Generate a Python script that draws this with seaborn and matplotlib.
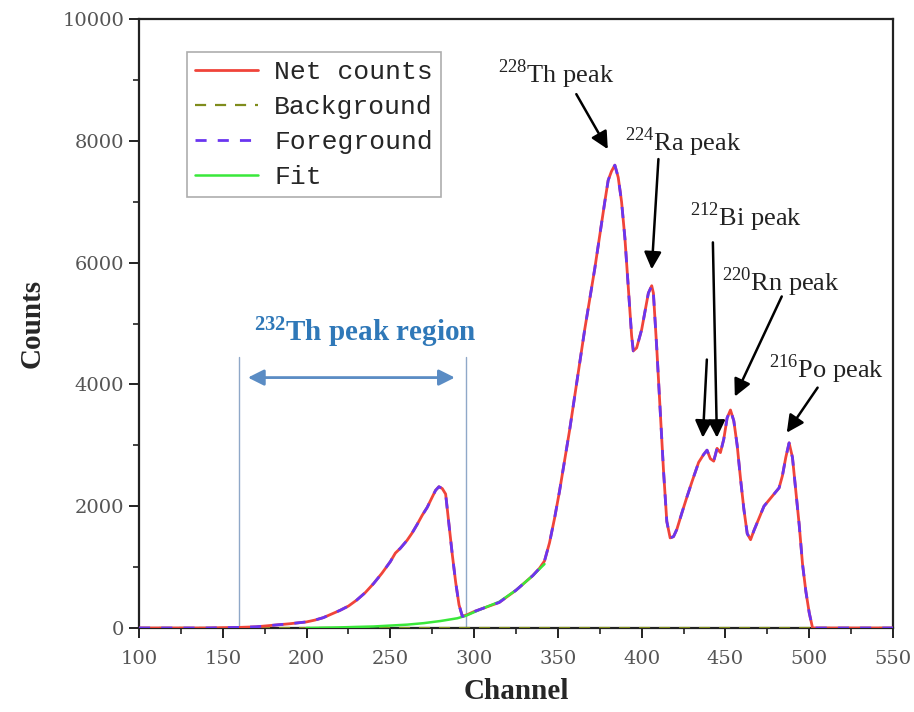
import numpy as np
import pandas as pd
import seaborn as sns
import matplotlib
matplotlib.use("Agg")
import matplotlib.pyplot as plt

# ---------------- data ----------------
channels = [100, 110, 120, 130, 140, 150, 160, 170, 180, 190, 200, 205, 210, 215, 220,
            225, 230, 235, 240, 245, 250, 253, 256, 260, 263, 266, 269, 272, 275, 277,
            279, 281, 283, 285, 287, 289, 291, 293, 296, 300, 305, 310, 315, 320, 325,
            330, 335, 339, 342, 345, 348, 351, 354, 357, 360, 363, 366, 369, 372, 375,
            378, 380, 382, 384, 386, 388, 390, 392, 394, 395, 397, 400, 402, 404, 406,
            407, 409, 411, 413, 415, 417, 419, 421, 424, 427, 430, 434, 437, 439, 441,
            443, 445, 447, 449, 451, 453, 455, 457, 459, 461, 463, 465, 467, 470, 473,
            476, 479, 482, 484, 486, 488, 490, 492, 494, 496, 498, 500, 502, 510, 520,
            530, 540, 550]
net_counts = [0, 0, 0, 0, 0, 5, 10, 20, 45, 70, 100, 130, 170, 230, 290,
              360, 460, 580, 730, 900, 1090, 1230, 1310, 1440, 1560, 1700, 1850, 1980, 2150, 2260,
              2320, 2290, 2200, 1700, 1200, 750, 380, 190, 220, 270, 320, 370, 420, 520, 620,
              740, 860, 980, 1100, 1400, 1800, 2250, 2750, 3250, 3800, 4350, 4900, 5400, 5900, 6450,
              7000, 7350, 7500, 7600, 7400, 7000, 6400, 5600, 4800, 4550, 4600, 4900, 5200, 5500, 5620,
              5500, 4600, 3600, 2600, 1750, 1480, 1500, 1620, 1890, 2150, 2400, 2720, 2850, 2920, 2780,
              2740, 2950, 2880, 3100, 3450, 3580, 3400, 3000, 2450, 1950, 1550, 1450, 1600, 1800, 2000,
              2100, 2200, 2300, 2500, 2800, 3040, 2800, 2250, 1700, 1050, 600, 250, 0, 0, 0,
              0, 0, 0]
foreground_counts = list(net_counts)

bg_channels = [100, 150, 200, 250, 300, 350, 400, 450, 500, 550]
bg_counts = [0, 0, 0, 0, 0, 0, 0, 0, 0, 0]

fit_channels = [200, 210, 220, 230, 240, 250, 260, 270, 280, 290, 295, 305, 315, 325, 335, 342]
fit_counts = [0, 5, 10, 18, 25, 40, 55, 80, 115, 160, 200, 320, 430, 620, 860, 1050]

legend_labels = ["Net counts", "Background", "Foreground", "Fit"]

peak_labels = ["$^{228}$Th peak", "$^{224}$Ra peak", "$^{212}$Bi peak", "$^{220}$Rn peak", "$^{216}$Po peak"]
peak_text_xy = [(349, 9095), (425, 7977), (462, 6743), (483, 5674), (510, 4243)]
arrow_tails = [(361, 8766), (410, 7700), (442.5, 6332), (483.6, 5444), (505, 3947)]
arrow_tips = [(379.8, 7862), (406, 5890), (444.9, 3125), (455.6, 3800), (486.6, 3207)]
extra_arrow_tail = (438.9, 4408)
extra_arrow_tip = (436.5, 3125)

region_label = "$\\mathbf{^{232}}$Th peak region"
region_bounds = [159.8, 294.9]
region_line_top = 4450
region_arrow = (165, 288.5, 4112)
region_text_xy = (235, 4852)

xticks = [100, 150, 200, 250, 300, 350, 400, 450, 500, 550]
yticks = [0, 2000, 4000, 6000, 8000, 10000]

# ---------------- style ----------------
sns.set_theme(style="ticks")
plt.rcParams["font.family"] = ["Liberation Serif", "DejaVu Serif"]
plt.rcParams["mathtext.fontset"] = "custom"
plt.rcParams["mathtext.rm"] = "Liberation Serif"
plt.rcParams["mathtext.bf"] = "Liberation Serif:bold"

fig = plt.figure(figsize=(9.14, 7.12), dpi=100)
ax = fig.add_axes([139 / 914, 1 - 628 / 712, (893 - 139) / 914, (628 - 19) / 712])

c_net = "#f0443a"
c_bg = "#7f8c1c"
c_fg = "#6a35f0"
c_fit = "#39e83a"

df_net = pd.DataFrame({"Channel": channels, "Counts": net_counts})
df_fg = pd.DataFrame({"Channel": channels, "Counts": foreground_counts})
df_bg = pd.DataFrame({"Channel": bg_channels, "Counts": bg_counts})
df_fit = pd.DataFrame({"Channel": fit_channels, "Counts": fit_counts})

sns.lineplot(data=df_bg, x="Channel", y="Counts", ax=ax, color=c_bg, lw=1.6,
             linestyle=(0, (5, 4)), estimator=None, sort=False, label=legend_labels[1], zorder=3)
sns.lineplot(data=df_net, x="Channel", y="Counts", ax=ax, color=c_net, lw=2.0,
             estimator=None, sort=False, label=legend_labels[0], zorder=4)
sns.lineplot(data=df_fit, x="Channel", y="Counts", ax=ax, color=c_fit, lw=1.8,
             estimator=None, sort=False, label=legend_labels[3], zorder=4.5)
sns.lineplot(data=df_fg, x="Channel", y="Counts", ax=ax, color=c_fg, lw=2.0,
             linestyle=(0, (4, 4)), estimator=None, sort=False, label=legend_labels[2], zorder=5)

ax.set_xlim(100, 550)
ax.set_ylim(0, 10000)
ax.set_xticks(xticks)
ax.set_yticks(yticks)
ax.set_xticks(np.arange(100, 551, 25), minor=True)
ax.set_yticks(np.arange(0, 10001, 1000), minor=True)
for s in ax.spines.values():
    s.set_visible(True)
    s.set_color("#222222")
    s.set_linewidth(1.6)
ax.tick_params(which="major", direction="out", length=7, width=1.4, color="#222222",
               labelsize=14, labelcolor="#555555")
ax.tick_params(which="minor", direction="out", length=4, width=1.2, color="#222222")
ax.tick_params(axis="x", which="major", pad=9)
for lab in ax.get_xticklabels() + ax.get_yticklabels():
    lab.set_family("DejaVu Serif")

ax.set_xlabel("Channel", fontsize=21, fontweight="bold", labelpad=7)
ax.set_ylabel("Counts", fontsize=21, fontweight="bold", labelpad=12)

# legend
handles, labels = ax.get_legend_handles_labels()
order = [labels.index(l) for l in legend_labels]
leg = ax.legend([handles[i] for i in order], [labels[i] for i in order],
                loc="upper left", bbox_to_anchor=((187 - 139) / 754, 1 - (52 - 19) / 609),
                borderaxespad=0, frameon=True, fancybox=False, edgecolor="#999999",
                prop={"family": "Liberation Mono", "size": 19},
                handlelength=2.4, handletextpad=0.6, labelspacing=0.42, borderpad=0.3)
leg.get_frame().set_linewidth(1.2)

# peak annotations
for lab, txy in zip(peak_labels, peak_text_xy):
    ax.text(txy[0], txy[1], lab, fontsize=19, color="#222222", ha="center", va="center")
for tail, tip in zip(arrow_tails + [extra_arrow_tail], arrow_tips + [extra_arrow_tip]):
    ax.annotate("", xy=tip, xytext=tail,
                arrowprops=dict(arrowstyle="-|>", color="black", lw=1.8, mutation_scale=26,
                                shrinkA=0, shrinkB=0))

# 232Th region
for xb in region_bounds:
    ax.plot([xb, xb], [0, region_line_top], color="#8fa8c8", lw=1.0, zorder=2)
ax.annotate("", xy=(region_arrow[0], region_arrow[2]), xytext=(region_arrow[1], region_arrow[2]),
            arrowprops=dict(arrowstyle="<|-|>", color="#5a8cc4", lw=2.0, mutation_scale=24,
                            shrinkA=0, shrinkB=0))
ax.text(region_text_xy[0], region_text_xy[1], region_label, fontsize=21, fontweight="bold",
        color="#2f78b8", ha="center", va="center")

fig.savefig("out.png", dpi=100)
